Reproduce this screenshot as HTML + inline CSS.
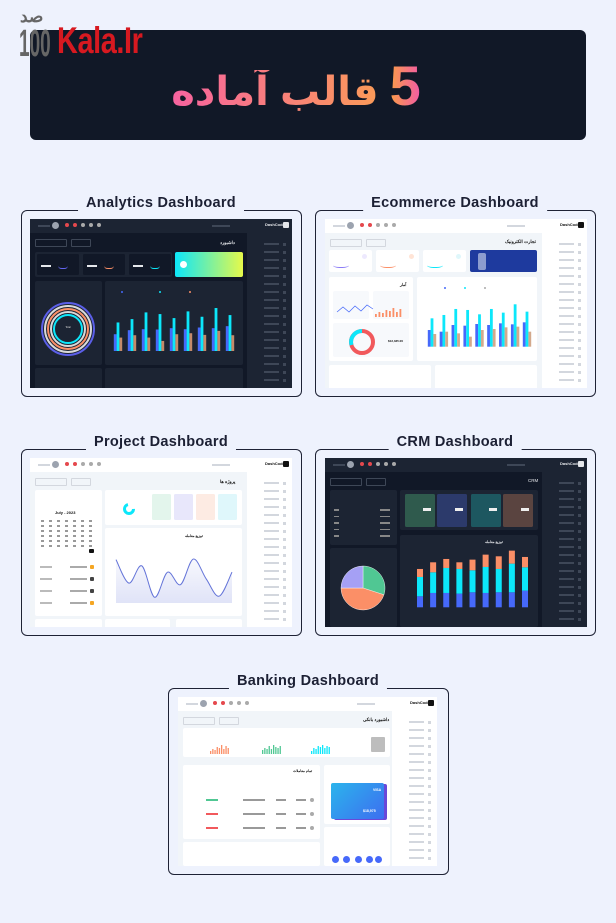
<!DOCTYPE html>
<html><head><meta charset="utf-8">
<style>
html,body{margin:0;padding:0}
body{width:616px;height:923px;background:#eef2fd;position:relative;overflow:hidden;font-family:"Liberation Sans","Noto Sans CJK SC",sans-serif}
.abs{position:absolute}
.frame{position:absolute;border:1.3px solid #1e2235;border-radius:6px;box-sizing:border-box}
.ttl{position:absolute;font-weight:bold;font-size:14.5px;color:#1c2034;background:#eef2fd;padding:0 8px;white-space:nowrap;transform:translateX(-50%);letter-spacing:0.3px}
.inner{position:absolute;overflow:hidden;width:262px;height:169px}
</style></head>
<body>
<div class="abs" style="left:30px;top:30px;width:556px;height:110px;background:#111827;border-radius:6px"></div>
<div class="abs" style="left:20px;top:8px;font-size:17px;color:#666;font-weight:bold;line-height:17px">صد</div>
<div class="abs" style="left:19px;top:27px;font-size:38px;color:#666;font-weight:bold;line-height:34px;transform:scaleX(0.5);transform-origin:left">100</div>
<div class="abs" style="left:57px;top:21px;font-size:37px;color:#d71920;font-weight:bold;line-height:40px;transform:scaleX(0.78);transform-origin:left;letter-spacing:-0.5px">Kala.Ir</div>
<div class="abs" style="left:-12px;top:56px;width:616px;text-align:center;direction:rtl;font-size:40px;font-weight:bold;line-height:60px;font-family:'Liberation Sans','Noto Sans CJK SC','DejaVu Sans',sans-serif">
<span style="background:linear-gradient(90deg,#fa9c48,#f25aa7);-webkit-background-clip:text;background-clip:text;color:transparent;font-size:56px">5</span>
<span style="background:linear-gradient(90deg,#f763a0,#fa9a58);-webkit-background-clip:text;background-clip:text;color:transparent">قالب آماده</span>
</div>

<div class="frame" style="left:21px;top:210px;width:281px;height:187px"></div>
<div class="ttl" style="left:161px;top:195px">Analytics Dashboard</div>
<div class="frame" style="left:315px;top:210px;width:281px;height:187px"></div>
<div class="ttl" style="left:455px;top:195px">Ecommerce Dashboard</div>
<div class="frame" style="left:21px;top:449px;width:281px;height:187px"></div>
<div class="ttl" style="left:161px;top:434px">Project Dashboard</div>
<div class="frame" style="left:315px;top:449px;width:281px;height:187px"></div>
<div class="ttl" style="left:455px;top:434px">CRM Dashboard</div>
<div class="frame" style="left:168px;top:688px;width:281px;height:187px"></div>
<div class="ttl" style="left:308px;top:673px">Banking Dashboard</div>

<div class="inner" id="an" style="left:30px;top:219px"></div>
<div class="inner" id="ec" style="left:325px;top:219px"></div>
<div class="inner" id="pr" style="left:30px;top:458px"></div>
<div class="inner" id="cr" style="left:325px;top:458px"></div>
<div class="inner" id="bk" style="left:178px;top:697px;width:259px"></div>

<script>
// ---- chart data ----
const months = ['Jan','Feb','Mar','Apr','May','Jun','Jul','Aug','Sep'];
const anCyan = [85,95,115,110,98,118,102,128,107];
const anBlue = [50,62,65,64,68,65,70,68,74];
const anTan  = [40,47,40,30,50,53,48,60,47];
const ecCyan = [85,95,113,110,97,113,102,127,105];
const ecBlue = [50,45,65,63,68,65,70,67,73];
const ecTan  = [38,45,40,30,50,53,58,60,45];
const crmBlue   = [33,43,43,41,45,43,45,45,50];
const crmCyan   = [58,62,75,74,66,78,70,86,70];
const crmOrange = [24,30,27,20,32,37,38,39,31];
const pieLabels = ['green','orange','purple'];
const pieValues = [30,45,25];
const lineLabels = ['1','2','3','4','5','6','7','8','9','10'];
const lineValues = [83,38,71,11,59,35,84,46,13,59];
const bankOrange = [3,5,4,7,6,9,5,8,6];
const bankGreen  = [4,6,5,8,5,9,7,6,8];
const bankCyan   = [3,6,5,8,7,9,6,8,7];

const NS='http://www.w3.org/2000/svg';
function R(p,name,x,y,w,h,bg,extra){
  const e=document.createElement('div');
  e.style.cssText='position:absolute;left:'+x+'px;top:'+y+'px;width:'+w+'px;height:'+h+'px;background:'+bg+';'+(extra||'');
  
  
  p.appendChild(e);return e;
}
function T(p,name,x,y,txt,size,color,extra){
  const e=document.createElement('div');
  e.style.cssText='position:absolute;left:'+x+'px;top:'+y+'px;font-size:'+size+'px;line-height:'+(size+1)+'px;color:'+color+';white-space:nowrap;font-weight:bold;'+(extra||'');
  e.textContent=txt;
  
  
  p.appendChild(e);return e;
}
function S(p,name,w,h){
  const s=document.createElementNS(NS,'svg');
  s.setAttribute('width',w);s.setAttribute('height',h);
  s.style.cssText='position:absolute;left:0;top:0';
  
  
  p.appendChild(s);return s;
}
function E(s,tag,attrs,name){
  const e=document.createElementNS(NS,tag);
  for(const k in attrs)e.setAttribute(k,attrs[k]);
  
  
  s.appendChild(e);return e;
}
function chrome(p,dark,W){
  const top=dark?'#1c2433':'#ffffff', side=dark?'#1c2433':'#ffffff', bg=dark?'#111827':'#f1f5f9';
  const line=dark?'#3e4757':'#d3d7de';
  R(p,'content-bg',0,0,W,169,bg);
  R(p,'top-bar',0,0,W,14,top);
  R(p,'sidebar',W-45,14,45,155,side);
  T(p,'brand-logo',W-27,3,'DashCode',4,dark?'#e5e7eb':'#111');
  R(p,'brand-icon',W-9,3,6,6,dark?'#e5e7eb':'#111','border-radius:1px');
  R(p,'user-avatar',22,3,7,7,'#9ca3af','border-radius:50%');
  R(p,'user-name',8,6,12,2,line);
  ['#e5484d','#e5484d','#aaa','#aaa','#aaa'].forEach((c,i)=>{R(p,'header-icon',35+i*8,4,4,4,c,'border-radius:50%')});
  R(p,'search-box',W-80,6,18,2,line);
  for(let i=0;i<18;i++){
    R(p,'menu-item',W-28,24+i*8,15,1.5,line);
    R(p,'menu-icon',W-9,23.5+i*8,3,3,line);
  }
  R(p,'toolbar-btn-1',5,20,32,8,'transparent','border:0.6px solid '+line+';border-radius:1px;box-sizing:border-box');
  R(p,'toolbar-btn-2',41,20,20,8,'transparent','border:0.6px solid '+line+';border-radius:1px;box-sizing:border-box');
}
function grouped(svg,x0,x1,base,top,max,series,colors,tagname){
  const n=series[0].length, step=(x1-x0)/(n-1), bw=2.8;
  const y=v=>base-(v/max)*(base-top);
  for(let i=0;i<n;i++){
    const cx=x0+i*step;
    series.forEach((arr,k)=>{
      E(svg,'rect',{x:cx+(k-1)*bw-bw/2,y:y(arr[i]),width:bw,height:base-y(arr[i]),fill:colors[k]},tagname+'-'+months[i]);
    });
  }
}
// ============ Analytics ============
(function(){
  const p=document.getElementById('an');chrome(p,true,262);
  T(p,'page-title',190,21,'داشبورد',4.5,'#e5e7eb');
  R(p,'stats-container',5,33,137,25,'#1c2433','border-radius:2px');
  [6,52,98].forEach((x,i)=>{R(p,'stat-card',x+1,35,42,21,'#111827','border-radius:1.5px');R(p,'stat-value',x+5,46,10,2,'#e5e7eb');R(p,'stat-spark',x+22,42,10,7,'transparent','border-bottom:1px solid '+['#6366f1','#fb8f67','#0ce7fa'][i]+';border-radius:40%')});
  R(p,'promo-card',145,33,68,25,'linear-gradient(90deg,#0ce7fa,#e6f94a)','border-radius:2px');
  R(p,'promo-icon',150,42,7,7,'#fff','border-radius:50%');
  R(p,'donut-card',5,62,67,84,'#1c2433','border-radius:2px');
  R(p,'bar-card',75,62,138,84,'#1c2433','border-radius:2px');
  R(p,'bottom-card-1',5,149,67,25,'#1c2433','border-radius:2px');
  R(p,'bottom-card-2',75,149,138,25,'#1c2433','border-radius:2px');
  const s=S(p,'analytics-charts',262,169);
  [[26,'#5b5fe8'],[23,'#d9d9d9'],[20,'#fb8f67'],[17,'#d9d9d9'],[14,'#0ce7fa']].forEach(([r,c])=>E(s,'circle',{cx:38,cy:110,r:r,fill:'none',stroke:c,'stroke-width':2},'donut-ring'));
  E(s,'text',{x:38,y:109,'font-size':2.5,fill:'#ddd','text-anchor':'middle'},'donut-label').textContent='Total';
  grouped(s,88,200,132,85,140,[anBlue,anCyan,anTan],['#4669fa','#0ce7fa','#c48a6a'],'an-bar');
  [['#4669fa',92],['#0ce7fa',130],['#fb8f67',160]].forEach(([c,x])=>E(s,'circle',{cx:x,cy:73,r:1,fill:c},'legend-dot'));
})();
// ============ Ecommerce ============
(function(){
  const p=document.getElementById('ec');chrome(p,false,262);
  T(p,'page-title',180,20,'تجارت الکترونیک',4.5,'#111');
  [4,51,98].forEach((x,i)=>{R(p,'stat-card',x,31,43,22,'#fff','border-radius:2px');R(p,'stat-spark',x+4,42,16,6,'transparent','border-bottom:1px solid '+['#8b7cf6','#fb8f67','#0ce7fa'][i]+';border-radius:40%');R(p,'stat-icon',x+33,35,5,5,['#ede9fe','#ffe4d6','#dff7fb'][i],'border-radius:50%')});
  R(p,'welcome-banner',145,31,67,22,'#1e3a9e','border-radius:2px');
  R(p,'welcome-figure',153,34,8,17,'#d5ddf0','border-radius:2px;opacity:.6');
  R(p,'stats-card',4,58,84,84,'#fff','border-radius:2px');
  T(p,'stats-title',75,63,'آمار',4,'#111');
  R(p,'mini-card-1',8,72,36,28,'#f7f9fc','border-radius:2px');
  R(p,'mini-card-2',48,72,36,28,'#f7f9fc','border-radius:2px');
  R(p,'mini-card-3',8,104,76,34,'#f7f9fc','border-radius:2px');
  T(p,'revenue-value',63,120,'$12,335.00',3,'#111');
  R(p,'bar-card',92,58,120,84,'#fff','border-radius:2px');
  R(p,'bottom-card-1',4,146,102,25,'#fff','border-radius:2px');
  R(p,'bottom-card-2',110,146,102,25,'#fff','border-radius:2px');
  const s=S(p,'ecommerce-charts',262,169);
  E(s,'circle',{cx:37,cy:123,r:11,fill:'none',stroke:'#f1595c','stroke-width':4},'donut-red');
  E(s,'path',{d:'M37 112 A11 11 0 0 0 26.5 126',fill:'none',stroke:'#0ce7fa','stroke-width':4},'donut-cyan');
  E(s,'polyline',{points:'12,93 18,88 24,93 30,87 36,92 42,86 48,90',fill:'none',stroke:'#4669fa','stroke-width':0.7},'mini-line');
  grouped(s,107,202,127.7,85.3,127,[ecBlue,ecCyan,ecTan],['#4669fa','#0ce7fa','#d3a98c'],'ec-bar');
  [['#4669fa',120],['#0ce7fa',140],['#aaa',160]].forEach(([c,x])=>E(s,'circle',{cx:x,cy:69,r:1,fill:c},'legend-dot'));
  const mb=[3,5,4,7,6,9,5,8];mb.forEach((v,i)=>E(s,'rect',{x:50+i*3.5,y:98-v,width:1.8,height:v,fill:'#fb8f67'},'mini-bar'));
})();
// ============ Project ============
(function(){
  const p=document.getElementById('pr');chrome(p,false,262);
  T(p,'page-title',190,21,'پروژه ها',4.5,'#111');
  R(p,'stats-container',75,32,137,35,'#fff','border-radius:2px');
  [['#dff7fb',188],['#fdebe3',166],['#e8e7fb',144],['#e3f5ec',122]].forEach(([c,x])=>R(p,'stat-tile',x,36,19,26,c,'border-radius:1.5px'));
  R(p,'calendar-card',5,32,67,126,'#fff','border-radius:2px');
  T(p,'calendar-month',25,52,'July - 2023',4,'#111');
  for(let r=0;r<6;r++)for(let c=0;c<7;c++)R(p,'calendar-day',11+c*8,62+r*5,3,1.5,'#999');
  R(p,'calendar-today',59,91,5,4,'#111','border-radius:1px');
  for(let i=0;i<4;i++){R(p,'task-icon',60,107+i*12,4,4,i%3==0?'#f5a623':'#444','border-radius:1px');R(p,'task-text',40,108+i*12,17,2,'#aaa');R(p,'task-date',10,108+i*12,12,1.5,'#bbb')}
  R(p,'line-card',75,70,137,88,'#fff','border-radius:2px');
  T(p,'line-title',155,76,'توزیع معامله',3.5,'#111');
  R(p,'bottom-card-1',5,161,67,10,'#fff','border-radius:2px');
  R(p,'bottom-card-2',75,161,65,10,'#fff','border-radius:2px');
  R(p,'bottom-card-3',146,161,66,10,'#fff','border-radius:2px');
  const s=S(p,'project-charts',262,169);
  E(s,'circle',{cx:99,cy:51,r:4.5,fill:'none',stroke:'#0ce7fa','stroke-width':3,'stroke-dasharray':'20 8'},'project-donut');
  const x0=86,x1=202,yb=145,yt=92.7;
  const px=i=>x0+i*(x1-x0)/(lineValues.length-1), py=v=>yb-v/100*(yb-yt);
  const pts=lineValues.map((v,i)=>[px(i),py(v)]);
  let d='M'+pts[0][0]+' '+pts[0][1];
  for(let i=0;i<pts.length-1;i++){
    const p0=pts[Math.max(0,i-1)],p1=pts[i],p2=pts[i+1],p3=pts[Math.min(pts.length-1,i+2)];
    d+=' C'+(p1[0]+(p2[0]-p0[0])/6)+' '+(p1[1]+(p2[1]-p0[1])/6)+' '+(p2[0]-(p3[0]-p1[0])/6)+' '+(p2[1]-(p3[1]-p1[1])/6)+' '+p2[0]+' '+p2[1];
  }
  const g=E(s,'defs',{},'defs');
  const lg=E(g,'linearGradient',{id:'pg',x1:0,y1:0,x2:0,y2:1},'area-gradient');
  E(lg,'stop',{offset:0,'stop-color':'#6474d8','stop-opacity':0.05},'stop');
  E(lg,'stop',{offset:1,'stop-color':'#6474d8','stop-opacity':0.2},'stop');
  E(s,'path',{d:d+' L'+x1+' '+yb+' L'+x0+' '+yb+' Z',fill:'url(#pg)'},'line-area');
  E(s,'path',{d:d,fill:'none',stroke:'#6474d8','stroke-width':1},'line-series');
})();
// ============ CRM ============
(function(){
  const p=document.getElementById('cr');chrome(p,true,262);
  T(p,'page-title',203,20,'CRM',4.5,'#e5e7eb','font-weight:normal');
  R(p,'stats-container',75,32,138,40,'#1c2433','border-radius:2px');
  [['#2f5a4d',80],['#2c3a6b',112],['#1d5760',146],['#5a4440',178]].forEach(([c,x])=>{R(p,'stat-card',x,36,30,33,c,'border-radius:1.5px');R(p,'stat-value',x+18,50,8,2.5,'#eee')});
  R(p,'list-card',5,32,67,55,'#1c2433','border-radius:2px');
  for(let i=0;i<5;i++){R(p,'list-row',9,51+i*6.5,5,1.5,'#888');R(p,'list-label',55,51+i*6.5,10,1.5,'#888')}
  R(p,'pie-card',5,90,67,79,'#1c2433','border-radius:2px');
  R(p,'bar-card',75,77,138,92,'#1c2433','border-radius:2px');
  T(p,'bar-title',160,82,'توزیع معامله',3.5,'#e5e7eb');
  const s=S(p,'crm-charts',262,169);
  const x0=95,x1=200,base=149.3,sc=1/3,bw=6;
  const n=crmBlue.length,step=(x1-x0)/(n-1);
  for(let i=0;i<n;i++){
    const cx=x0+i*step;let y=base;
    [[crmBlue,'#4669fa'],[crmCyan,'#0ce7fa'],[crmOrange,'#fb8f67']].forEach(([a,c])=>{
      const h=a[i]*sc;y-=h;E(s,'rect',{x:cx-bw/2,y:y,width:bw,height:h,fill:c},'crm-bar-'+months[i]);
    });
  }
  const total=pieValues.reduce((a,b)=>a+b,0),cx=38,cy=130,r=22,cols=['#50c793','#fb8f67','#a5a0f5'];
  let a0=-Math.PI/2;
  pieValues.forEach((v,i)=>{
    const a1=a0+v/total*2*Math.PI;
    const d='M'+cx+' '+cy+' L'+(cx+r*Math.cos(a0))+' '+(cy+r*Math.sin(a0))+' A'+r+' '+r+' 0 '+(a1-a0>Math.PI?1:0)+' 1 '+(cx+r*Math.cos(a1))+' '+(cy+r*Math.sin(a1))+' Z';
    E(s,'path',{d:d,fill:cols[i],stroke:'#fff','stroke-width':0.4},'pie-slice-'+pieLabels[i]);
    a0=a1;
  });
})();
// ============ Banking ============
(function(){
  const p=document.getElementById('bk');chrome(p,false,259);
  T(p,'page-title',185,20,'داشبورد بانکی',4.5,'#111');
  R(p,'stats-container',5,31,207,29,'#fff','border-radius:2px');
  R(p,'avatar-box',193,40,14,15,'#bdbdbd','border-radius:1px');
  R(p,'transactions-card',5,68,137,74,'#fff','border-radius:2px');
  T(p,'transactions-title',115,72,'تمام معاملات',3.5,'#111');
  for(let i=0;i<3;i++){R(p,'tx-amount',28,102+i*14,12,1.5,i==0?'#50c793':'#f1595c');R(p,'tx-row',65,102+i*14,22,1.5,'#999');R(p,'tx-col',98,102+i*14,10,1.5,'#999');R(p,'tx-col',118,102+i*14,10,1.5,'#999');R(p,'tx-avatar',132,101+i*14,4,4,'#aaa','border-radius:50%')}
  R(p,'cards-card',146,68,66,59,'#fff','border-radius:2px');
  R(p,'visa-card-back',156,87,53,36,'#6a48d8','border-radius:2px');
  R(p,'visa-card',153,86,53,36,'linear-gradient(135deg,#2bb4ec,#3d6ef0)','border-radius:2px');
  T(p,'visa-logo',195,91,'VISA',3.5,'#fff');
  T(p,'visa-balance',185,112,'$18,975',3.5,'#fff');
  R(p,'transfer-card',146,130,66,39,'#fff','border-radius:2px');
  [157,168,180,191,200].forEach(x=>R(p,'contact-avatar',x-3.5,159,7,7,'#4669fa','border-radius:50%'));
  R(p,'bottom-card',5,145,137,24,'#fff','border-radius:2px');
  const s=S(p,'banking-charts',259,169);
  [[bankOrange,32,'#fb8f67'],[bankGreen,84,'#50c793'],[bankCyan,133,'#0ce7fa']].forEach(([a,x,c])=>{
    a.forEach((v,i)=>E(s,'rect',{x:x+i*2.2,y:57-v,width:1.3,height:v,fill:c},'bank-mini-bar'));
  });
})();
</script>
</body></html>
